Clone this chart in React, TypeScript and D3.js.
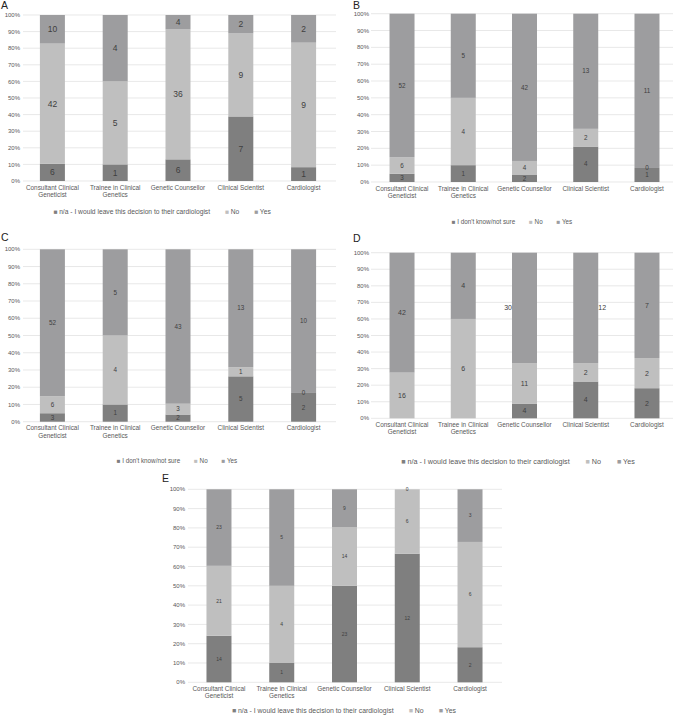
import React from "react";
import * as d3 from "d3";

const categories: string[][] = [
  ["Consultant Clinical", "Geneticist"],
  ["Trainee in Clinical", "Genetics"],
  ["Genetic Counsellor"],
  ["Clinical Scientist"],
  ["Cardiologist"],
];
const yTicks = [0, 10, 20, 30, 40, 50, 60, 70, 80, 90, 100];
const legendNA = ["n/a - I would leave this decision to their cardiologist", "No", "Yes"];
const legendDK = ["I don't know/not sure", "No", "Yes"];

const aFirst = [6, 1, 6, 7, 1];
const aNo = [42, 5, 36, 9, 9];
const aYes = [10, 4, 4, 2, 2];

const bFirst = [3, 1, 2, 4, 1];
const bNo = [6, 4, 4, 2, 0];
const bYes = [52, 5, 42, 13, 11];

const cFirst = [3, 1, 2, 5, 2];
const cNo = [6, 4, 3, 1, 0];
const cYes = [52, 5, 43, 13, 10];

const dFirst = [0, 0, 4, 4, 2];
const dNo = [16, 6, 11, 2, 2];
const dYes = [42, 4, 30, 12, 7];

const eFirst = [14, 1, 23, 12, 2];
const eNo = [21, 4, 14, 6, 6];
const eYes = [23, 5, 9, 0, 3];

const COLORS = ["#7f7f7f", "#bfbfbf", "#9d9d9f"];
const FONT = "'Liberation Sans', Arial, sans-serif";

type PanelProps = {
  letter: string;
  letterX: number;
  letterY: number;
  first: number[];
  no: number[];
  yes: number[];
  legend: string[];
  top: number;
  bottom: number;
  x0: number;
  x1: number;
  gridX0: number;
  gridX1: number;
  yLabelX: number;
  labelSize: number;
  legendX: number;
  legendY: number;
  legendSize: number;
  showZeros: boolean;
  anchors?: Record<string, string>;
};

function Panel(p: PanelProps) {
  const keys = ["first", "no", "yes"];
  const rows = categories.map((c, i) => {
    const tot = p.first[i] + p.no[i] + p.yes[i];
    return {
      i,
      first: p.first[i] / tot,
      no: p.no[i] / tot,
      yes: p.yes[i] / tot,
      raw: [p.first[i], p.no[i], p.yes[i]],
    };
  });
  const series = d3.stack<any>().keys(keys)(rows);
  const x = d3
    .scaleBand<number>()
    .domain(categories.map((_, i) => i))
    .range([p.x0, p.x1])
    .padding(0);
  const y = d3.scaleLinear().domain([0, 1]).range([p.bottom, p.top]);
  const bw = 25;
  const cx = (i: number) => (x(i) as number) + x.bandwidth() / 2;

  const legendParts: React.ReactNode[] = [];
  p.legend.forEach((t, k) => {
    legendParts.push(
      <tspan key={"m" + k} fill={COLORS[k]} dx={k === 0 ? 0 : p.legendSize * 2.2}>
        ■
      </tspan>
    );
    legendParts.push(
      <tspan key={"t" + k} fill="#595959">
        {" " + t}
      </tspan>
    );
  });

  return (
    <g fontFamily={FONT}>
      <text x={p.letterX} y={p.letterY} fontSize={10.5} fill="#222">
        {p.letter}
      </text>
      {yTicks.map((t) => (
        <g key={t}>
          <line
            x1={p.gridX0}
            x2={p.gridX1}
            y1={y(t / 100)}
            y2={y(t / 100)}
            stroke="#d9d9d9"
            strokeWidth={0.6}
          />
          <text
            x={p.yLabelX}
            y={y(t / 100)}
            dy="0.35em"
            textAnchor="end"
            fontSize={6}
            fill="#595959"
          >
            {t + "%"}
          </text>
        </g>
      ))}
      {series.map((s, k) =>
        s.map((d: any, i: number) => (
          <rect
            key={k + "-" + i}
            x={cx(i) - bw / 2}
            width={bw}
            y={y(d[1])}
            height={Math.max(0, y(d[0]) - y(d[1]))}
            fill={COLORS[k]}
          />
        ))
      )}
      {series.map((s, k) =>
        s.map((d: any, i: number) => {
          const v = rows[i].raw[k];
          if (v === 0 && !p.showZeros) return null;
          const a = p.anchors ? p.anchors[i + "-" + k] : undefined;
          let tx = cx(i);
          let anchor: any = "middle";
          if (a === "left") {
            tx = cx(i) - bw / 2;
            anchor = "end";
          } else if (a === "right") {
            tx = cx(i) + bw / 2;
            anchor = "start";
          }
          return (
            <text
              key={"l" + k + "-" + i}
              x={tx}
              y={y((d[0] + d[1]) / 2)}
              dy="0.35em"
              textAnchor={anchor}
              fontSize={p.labelSize}
              fill="#404040"
            >
              {v}
            </text>
          );
        })
      )}
      {categories.map((c, i) => (
        <text
          key={"c" + i}
          x={cx(i)}
          y={p.bottom + 8.7}
          textAnchor="middle"
          fontSize={6.4}
          fill="#595959"
        >
          {c.map((line, j) => (
            <tspan key={j} x={cx(i)} dy={j === 0 ? 0 : 7.3}>
              {line}
            </tspan>
          ))}
        </text>
      ))}
      <text x={p.legendX} y={p.legendY} dy="0.35em" textAnchor="middle" fontSize={p.legendSize}>
        {legendParts}
      </text>
    </g>
  );
}

export default function App() {
  return (
    <svg width={678} height={715} style={{ position: "absolute", left: 0, top: 0 }}>
      <rect width={678} height={715} fill="#fff" />
      <Panel
        letter="A" letterX={1} letterY={9}
        first={aFirst} no={aNo} yes={aYes} legend={legendNA}
        top={15} bottom={181} x0={21} x1={335} gridX0={23} gridX1={336} yLabelX={20}
        labelSize={8.5} legendX={162} legendY={212} legendSize={6.7} showZeros={true}
      />
      <Panel
        letter="B" letterX={353} letterY={9}
        first={bFirst} no={bNo} yes={bYes} legend={legendDK}
        top={13.7} bottom={182} x0={371.4} x1={677.6} gridX0={371} gridX1={673} yLabelX={369}
        labelSize={6.3} legendX={512} legendY={221.7} legendSize={6.3} showZeros={true}
      />
      <Panel
        letter="C" letterX={1} letterY={241}
        first={cFirst} no={cNo} yes={cYes} legend={legendDK}
        top={249.3} bottom={421.7} x0={21} x1={335} gridX0={23} gridX1={336} yLabelX={20}
        labelSize={6.3} legendX={177} legendY={460.7} legendSize={6.3} showZeros={true}
      />
      <Panel
        letter="D" letterX={353} letterY={242}
        first={dFirst} no={dNo} yes={dYes} legend={legendNA}
        top={252.7} bottom={418.3} x0={371.4} x1={677.6} gridX0={371} gridX1={673} yLabelX={369}
        labelSize={7} legendX={518} legendY={461} legendSize={7.2} showZeros={false}
        anchors={{ "2-2": "left", "3-2": "right" }}
      />
      <Panel
        letter="E" letterX={162} letterY={482}
        first={eFirst} no={eNo} yes={eYes} legend={legendNA}
        top={489.3} bottom={682.3} x0={187.6} x1={501.4} gridX0={188} gridX1={502} yLabelX={185}
        labelSize={5} legendX={344} legendY={711} legendSize={6.9} showZeros={true}
      />
    </svg>
  );
}
